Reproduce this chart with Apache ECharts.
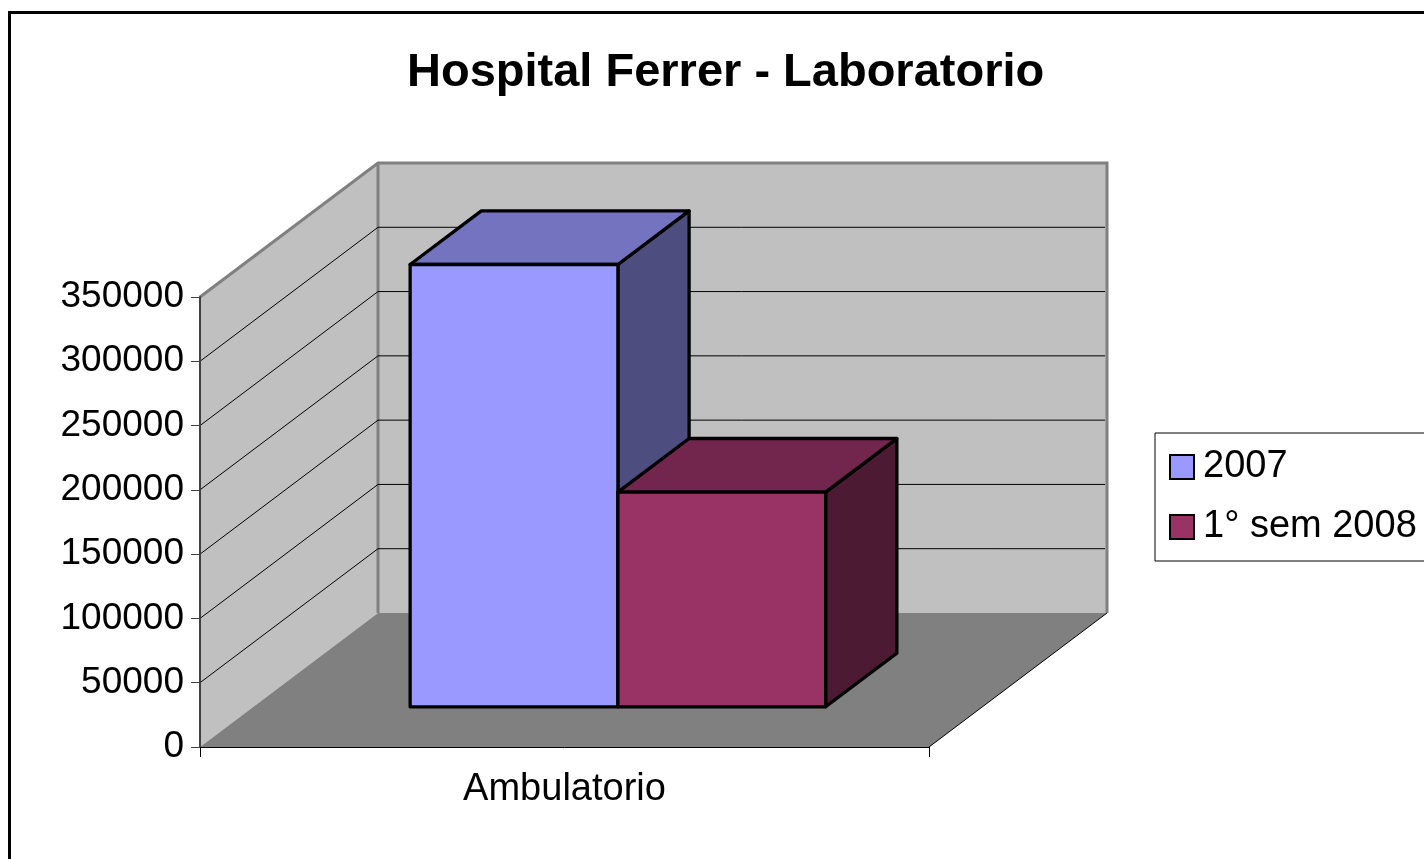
<!DOCTYPE html>
<html>
<head>
<meta charset="utf-8">
<title>Hospital Ferrer - Laboratorio</title>
<script src="https://cdn.jsdelivr.net/npm/echarts@6/dist/echarts.min.js"></script>
<style>
  html, body { margin: 0; padding: 0; background: #fff; }
  #chart { width: 1424px; height: 859px; }
</style>
</head>
<body>
<div id="chart"></div>
<script>
// datos
const categories = ['Ambulatorio'];
const seriesNames = ['2007', '1° sem 2008'];
const values2007 = [344000];
const values2008 = [167000];
const yTicks = [0, 50000, 100000, 150000, 200000, 250000, 300000, 350000];

const FONT = '"Liberation Sans", Arial, sans-serif';
// desplazamiento de profundidad (pared del fondo)
const DX = 178, DY = -134;
const yMax = yTicks[yTicks.length - 1];

// paredes y piso
function renderWalls(params, api) {
  const cs = params.coordSys;
  const x0 = cs.x, x1 = cs.x + cs.width;
  const yb = api.coord([0, 0])[1];
  const yt = api.coord([0, api.value(1)])[1];
  return {
    type: 'group',
    children: [
      { type: 'polygon', shape: { points: [[x0, yb], [x0 + DX, yb + DY], [x0 + DX, yt + DY], [x0, yt]] },
        style: { fill: '#c0c0c0' } },
      { type: 'rect', shape: { x: x0 + DX, y: yt + DY, width: x1 - x0, height: yb - yt },
        style: { fill: '#c0c0c0' } },
      { type: 'polygon', shape: { points: [[x0, yb], [x1, yb], [x1 + DX, yb + DY], [x0 + DX, yb + DY]] },
        style: { fill: '#808080' } },
      { type: 'line', shape: { x1: x1, y1: yb, x2: x1 + DX, y2: yb + DY },
        style: { stroke: '#000', lineWidth: 1 } },
      { type: 'polyline', shape: { points: [[x0, yt], [x0 + DX, yt + DY], [x1 + DX, yt + DY], [x1 + DX, yb + DY]] },
        style: { stroke: '#808080', lineWidth: 3, fill: null } },
      { type: 'line', shape: { x1: x0 + DX, y1: yt + DY, x2: x0 + DX, y2: yb + DY },
        style: { stroke: '#808080', lineWidth: 3 } }
    ]
  };
}

// líneas de división en las paredes
function renderGrid(params, api) {
  const v = api.value(0);
  if (v === 0 || v === yMax) return;
  const cs = params.coordSys;
  const x0 = cs.x, x1 = cs.x + cs.width;
  const y = api.coord([0, v])[1];
  return {
    type: 'polyline',
    shape: { points: [[x0, y], [x0 + DX, y + DY], [x1 + DX - 2, y + DY]] },
    style: { stroke: '#000', lineWidth: 1, fill: null }
  };
}

// barra 3D
function makeBar(idx, colors) {
  return function (params, api) {
    const center = api.coord([api.value(0), 0]);
    const band = api.size([1, 0])[0];
    const w = band * 0.285;
    const xl = center[0] + (idx - 1) * w;
    const xr = xl + w;
    const yTop = api.coord([api.value(0), api.value(1)])[1];
    const yBot = center[1];
    const f0 = 0.3, f1 = 0.7;
    const ox = DX * f0, oy = DY * f0;
    const dx = DX * (f1 - f0), dy = DY * (f1 - f0);
    const st = { stroke: '#000', lineWidth: 3.3, lineJoin: 'round' };
    return {
      type: 'group',
      children: [
        { type: 'polygon', shape: { points: [[xr + ox, yBot + oy], [xr + ox + dx, yBot + oy + dy], [xr + ox + dx, yTop + oy + dy], [xr + ox, yTop + oy]] },
          style: Object.assign({ fill: colors[2] }, st) },
        { type: 'polygon', shape: { points: [[xl + ox, yTop + oy], [xr + ox, yTop + oy], [xr + ox + dx, yTop + oy + dy], [xl + ox + dx, yTop + oy + dy]] },
          style: Object.assign({ fill: colors[1] }, st) },
        { type: 'rect', shape: { x: xl + ox, y: yTop + oy, width: w, height: yBot - yTop },
          style: Object.assign({ fill: colors[0] }, st) }
      ]
    };
  };
}

const chart = echarts.init(document.getElementById('chart'));

const option = {
  backgroundColor: '#fff',
  animation: false,
  title: {
    text: 'Hospital Ferrer - Laboratorio',
    left: 407,
    top: 50,
    padding: 0,
    textStyle: { fontFamily: FONT, fontSize: 47, fontWeight: 'bold', color: '#000' }
  },
  legend: {
    orient: 'vertical',
    left: 1155,
    top: 433,
    padding: [15, 30, 15, 14],
    itemGap: 22,
    itemWidth: 24,
    itemHeight: 24,
    icon: 'rect',
    borderColor: '#000',
    borderWidth: 1,
    backgroundColor: '#fff',
    textStyle: { fontFamily: FONT, fontSize: 38, color: '#000', padding: [0, 0, 4, 4] },
    data: [
      { name: seriesNames[0], itemStyle: { color: '#9999ff', borderColor: '#000', borderWidth: 2 } },
      { name: seriesNames[1], itemStyle: { color: '#993366', borderColor: '#000', borderWidth: 2 } }
    ]
  },
  graphic: [
    { type: 'rect', left: 7, top: 10, z: 100, silent: true,
      shape: { width: 1500, height: 1000 },
      style: { fill: null, stroke: '#000', lineWidth: 3 } }
  ],
  grid: { left: 200, right: 495, top: 297, bottom: 112 },
  xAxis: {
    type: 'category',
    data: categories,
    z: 10,
    axisLine: { show: true, lineStyle: { color: '#000', width: 1 } },
    axisTick: { show: true, length: 10, lineStyle: { color: '#000' } },
    axisLabel: { fontFamily: FONT, fontSize: 38, color: '#000', margin: 24 }
  },
  yAxis: {
    type: 'value',
    min: 0,
    max: yMax,
    interval: 50000,
    z: 10,
    axisLine: { show: true, lineStyle: { color: '#404040', width: 2 } },
    axisTick: { show: true, length: 9, lineStyle: { color: '#404040', width: 1 } },
    axisLabel: { fontFamily: FONT, fontSize: 37, color: '#000', margin: 16, formatter: v => String(v) },
    splitLine: { show: false }
  },
  series: [
    {
      type: 'custom',
      name: 'walls',
      z: 1,
      silent: true,
      renderItem: renderWalls,
      data: [[0, yMax]]
    },
    {
      type: 'custom',
      name: 'grid',
      z: 2,
      silent: true,
      renderItem: renderGrid,
      encode: { y: 0 },
      data: yTicks.map(v => [v])
    },
    {
      type: 'custom',
      name: seriesNames[0],
      z: 3,
      itemStyle: { color: '#9999ff' },
      renderItem: makeBar(0, ['#9999ff', '#7373bf', '#4d4d80']),
      encode: { x: 0, y: 1 },
      data: values2007.map((v, i) => [i, v])
    },
    {
      type: 'custom',
      name: seriesNames[1],
      z: 4,
      itemStyle: { color: '#993366' },
      renderItem: makeBar(1, ['#993366', '#73264d', '#4d1a33']),
      encode: { x: 0, y: 1 },
      data: values2008.map((v, i) => [i, v])
    }
  ]
};

chart.setOption(option);
</script>
</body>
</html>
